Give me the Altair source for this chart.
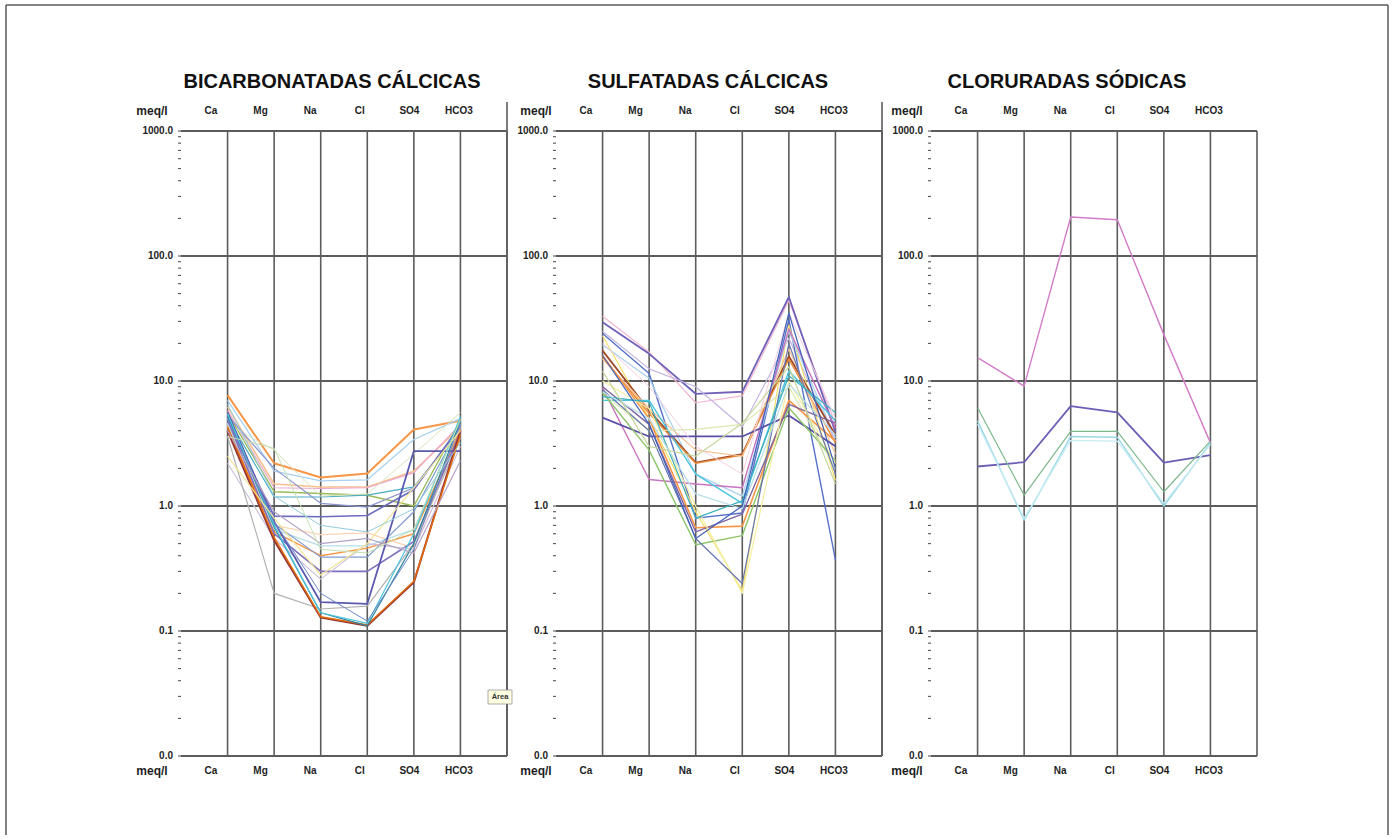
import altair as alt
import pandas as pd

IONS = ["Ca", "Mg", "Na", "Cl", "SO4", "HCO3"]
UNIT = "meq/l"
TITLES = ["BICARBONATADAS CÁLCICAS", "SULFATADAS CÁLCICAS", "CLORURADAS SÓDICAS"]
DECADES = [0.01, 0.1, 1, 10, 100, 1000]
TIP = "Área"

# ---- Panel 1: bicarbonatadas cálcicas (Ca, Mg, Na, Cl, SO4, HCO3) ----
P1_VALUES = [
    [7.7, 2.2, 1.69, 1.82, 4.1, 4.8],
    [7.0, 1.9, 1.59, 1.62, 3.4, 5.0],
    [6.2, 1.5, 1.42, 1.42, 1.9, 4.3],
    [5.8, 1.4, 1.38, 1.40, 1.85, 4.5],
    [5.5, 1.3, 1.26, 1.22, 1.0, 4.8],
    [5.1, 1.18, 1.18, 1.22, 1.42, 4.1],
    [4.5, 2.8, 1.2, 1.25, 2.6, 5.6],
    [5.3, 2.0, 1.05, 0.98, 1.4, 4.2],
    [4.8, 0.83, 0.82, 0.84, 1.35, 4.4],
    [4.4, 0.7, 0.59, 0.61, 0.46, 4.0],
    [4.6, 0.65, 0.48, 0.48, 0.65, 3.8],
    [4.2, 0.62, 0.40, 0.46, 0.6, 4.1],
    [5.0, 0.72, 0.39, 0.39, 0.9, 4.4],
    [4.9, 0.6, 0.30, 0.30, 0.52, 3.9],
    [2.2, 0.55, 0.26, 0.5, 0.45, 3.0],
    [5.6, 0.75, 0.17, 0.165, 2.75, 2.75],
    [3.6, 0.2, 0.15, 0.158, 0.5, 3.5],
    [4.0, 0.53, 0.128, 0.11, 0.245, 4.0],
    [4.3, 0.56, 0.13, 0.112, 0.25, 3.7],
    [5.3, 0.68, 0.14, 0.11, 0.5, 4.8],
    [5.5, 0.7, 0.14, 0.115, 0.6, 5.2],
    [5.0, 0.75, 0.2, 0.12, 0.45, 4.6],
    [2.5, 0.8, 0.28, 0.5, 1.4, 4.0],
    [4.0, 0.9, 0.5, 0.55, 0.42, 2.3],
    [3.6, 2.9, 0.45, 0.42, 0.65, 4.9],
    [6.5, 1.2, 0.7, 0.62, 0.95, 3.2],
]
P1_COLORS = ["#f79646", "#a9d0ee", "#fabf8f", "#eaa8cf", "#9bbb59", "#4bacc6",
             "#d7e4bd", "#8a96d0", "#6a6cc0", "#fcd5b4", "#b7dee8", "#f79646",
             "#7f9bd0", "#7f6fc0", "#ccc0da", "#5a5aae", "#b0b0b0", "#953735",
             "#e46c0a", "#31859c", "#4bc6e0", "#6b86c8", "#f2e394", "#b3a2c7",
             "#c4e0b0", "#92cddc"]
P1_WIDTHS = [2.0, 1.2, 1.6, 1.2, 1.4, 1.2, 1.0, 1.2, 1.6, 1.4, 1.4, 1.4, 1.2,
             1.6, 1.2, 1.8, 1.2, 2.0, 1.4, 1.2, 1.2, 1.0, 1.2, 1.2, 1.0, 1.0]

# ---- Panel 2: sulfatadas cálcicas ----
P2_VALUES = [
    [33, 17, 6.7, 7.6, 44, 4.5],
    [29.5, 16.5, 7.9, 8.2, 47, 3.9],
    [25, 12.5, 9.0, 4.3, 22, 3.3],
    [24, 11.5, 0.8, 0.88, 31, 0.37],
    [23, 5.0, 0.9, 0.21, 28, 1.6],
    [19.5, 10.5, 1.8, 1.2, 25, 3.5],
    [17.5, 5.8, 2.22, 2.6, 15.8, 3.7],
    [15.5, 5.5, 2.2, 2.55, 15, 3.2],
    [15, 6.0, 2.8, 2.5, 18, 2.6],
    [8.8, 1.63, 1.5, 1.4, 26, 4.2],
    [7.0, 7.0, 1.8, 1.05, 12, 4.8],
    [5.1, 3.6, 3.6, 3.6, 5.3, 3.0],
    [8.0, 4.0, 4.1, 4.5, 9, 2.0],
    [8.1, 2.8, 0.49, 0.58, 6.1, 2.3],
    [16, 5.0, 0.67, 0.69, 7.0, 3.3],
    [9, 4.5, 0.62, 0.86, 6.5, 4.6],
    [10, 6, 1.0, 0.2, 10, 2.2],
    [8.5, 4.0, 0.55, 0.24, 20, 1.8],
    [7.5, 6.8, 0.8, 1.1, 11, 5.6],
    [8.2, 5.0, 1.25, 0.95, 9.5, 3.7],
    [20, 9, 3.0, 1.8, 35, 5.0],
    [12, 3.0, 2.5, 4.6, 13, 1.5],
    [16, 4.5, 0.55, 1.0, 35, 2.0],
]
P2_COLORS = ["#f4b6d0", "#6f62b8", "#c5b5e2", "#5570c8", "#f2e06a", "#a9d0ee",
             "#9e4a2a", "#e98a3a", "#fac090", "#c874c0", "#4bc6e0", "#5a4fa8",
             "#dbe8b0", "#8cc46a", "#f79646", "#8064a2", "#f5eea0", "#6676b0",
             "#3cb0c0", "#b7dee8", "#f6cfe0", "#c4d79b", "#4060b8"]
P2_WIDTHS = [1.2, 1.8, 1.2, 1.4, 1.2, 1.2, 1.8, 1.4, 1.2, 1.4, 1.4, 1.8, 1.2,
             1.4, 1.6, 1.4, 1.2, 1.2, 1.2, 1.2, 1.0, 1.2, 1.2]

# ---- Panel 3: cloruradas sódicas ----
P3_VALUES = [
    [15.4, 9.1, 205, 195, 23.5, 3.2],
    [2.07, 2.24, 6.3, 5.6, 2.22, 2.55],
    [6.1, 1.22, 3.95, 3.95, 1.3, 3.3],
    [4.8, 0.77, 3.6, 3.55, 1.0, 3.2],
    [4.5, 0.8, 3.35, 3.3, 1.05, 3.1],
]
P3_COLORS = ["#d27cc8", "#6a5fb5", "#7cb88a", "#9ad8e6", "#c8ecf4"]
P3_WIDTHS = [1.4, 1.8, 1.2, 1.4, 1.2]

W, H = 326, 625
FONT = "Liberation Sans"
GRID = "#5c5c5c"
TXT = "#1e1e1e"

TICKS = [k * 10.0 ** e for e in range(-2, 3) for k in range(1, 10)] + [1000.0]

xS = alt.Scale(domain=[0, 7], nice=False, zero=False)
yS = alt.Scale(type="log", domain=[0.01, 1000], nice=False)


def panel(k, values, colors, widths, meq_dx, title_x, frame=False, sep=False, tip=False):
    rows = []
    for s, (vals, c, w) in enumerate(zip(values, colors, widths)):
        for i, v in enumerate(vals):
            rows.append(dict(sid=s, ion=i + 1, v=v, c=c, w=w))
    df = pd.DataFrame(rows)

    dec = pd.DataFrame({"v": DECADES, "x0": 0, "x1": 7})
    hgrid = alt.Chart(dec).mark_rule(color=GRID, strokeWidth=1.8).encode(
        y=alt.Y("v:Q", scale=yS, axis=None),
        x=alt.X("x0:Q", scale=xS, axis=None), x2="x1:Q")

    ylab = alt.Chart(dec).transform_calculate(lbl="format(datum.v, '.1f')").mark_text(
        font=FONT, fontSize=10, fontWeight="bold", color=TXT, align="right", baseline="middle"
    ).encode(y=alt.Y("v:Q", scale=yS, axis=None), x=alt.value(-8), text="lbl:N")

    ticks = alt.Chart(pd.DataFrame({"v": TICKS})).mark_rule(color="#444", strokeWidth=1).encode(
        y=alt.Y("v:Q", scale=yS, axis=None), x=alt.value(-3), x2=alt.value(0))

    vg = pd.DataFrame({"x": list(range(1, 8)), "y0": 0.01, "y1": 1000})
    vgrid = alt.Chart(vg).mark_rule(color=GRID, strokeWidth=1.6).encode(
        x=alt.X("x:Q", scale=xS, axis=None),
        y=alt.Y("y0:Q", scale=yS, axis=None), y2="y1:Q")

    lines = alt.Chart(df).mark_line(strokeJoin="round").encode(
        x=alt.X("ion:Q", scale=xS, axis=None),
        y=alt.Y("v:Q", scale=yS, axis=None),
        detail="sid:N",
        color=alt.Color("c:N", scale=None),
        strokeWidth=alt.StrokeWidth("w:Q", scale=None))

    lab = pd.DataFrame({"lab": IONS, "i": list(range(1, 7))})
    layers = [hgrid, vgrid, ticks, ylab, lines]
    for yy in (-20, 640):
        layers.append(
            alt.Chart(lab).transform_calculate(lx="0.644 + 1.065*(datum.i-1)")
            .mark_text(font=FONT, fontSize=10, fontWeight="bold", color=TXT, baseline="middle")
            .encode(x=alt.X("lx:Q", scale=xS, axis=None), y=alt.value(yy), text="lab:N"))
        layers.append(
            alt.Chart(pd.DataFrame({"t": [UNIT]}))
            .mark_text(font=FONT, fontSize=12, fontWeight="bold", color=TXT, baseline="middle")
            .encode(x=alt.value(meq_dx), y=alt.value(yy), text="t:N"))

    layers.append(
        alt.Chart(pd.DataFrame({"t": [TITLES[k]]}))
        .mark_text(font=FONT, fontSize=20, fontWeight="bold", color="#111", baseline="alphabetic")
        .encode(x=alt.value(title_x), y=alt.value(-43), text="t:N"))

    if sep:
        layers.append(alt.Chart(pd.DataFrame({"a": [0]})).mark_rule(color=GRID, strokeWidth=1.6)
                      .encode(x=alt.value(W), y=alt.value(-29), y2=alt.value(H)))
    if tip:
        tipdf = pd.DataFrame({"t": [TIP]})
        layers.append(alt.Chart(tipdf).mark_rect(fill="#ffffe1", stroke="#8a8a8a", strokeWidth=0.7)
                      .encode(x=alt.value(307), x2=alt.value(331), y=alt.value(559), y2=alt.value(573)))
        layers.append(alt.Chart(tipdf).mark_text(font=FONT, fontSize=7.5, fontWeight="bold", color="#333", baseline="middle")
                      .encode(x=alt.value(319), y=alt.value(566), text="t:N"))
    if frame:
        fr = pd.DataFrame({"a": [0]})
        fcol, fw = "#5a5a5a", 1.5
        layers.append(alt.Chart(fr).mark_rule(color=fcol, strokeWidth=fw)
                      .encode(x=alt.value(-175), x2=alt.value(1207), y=alt.value(-126)))
        layers.append(alt.Chart(fr).mark_rule(color=fcol, strokeWidth=fw)
                      .encode(x=alt.value(-175), y=alt.value(-126), y2=alt.value(704)))
        layers.append(alt.Chart(fr).mark_rule(color=fcol, strokeWidth=fw)
                      .encode(x=alt.value(1207), y=alt.value(-126), y2=alt.value(704)))

    return alt.layer(*layers).properties(width=W, height=H)


p1 = panel(0, P1_VALUES, P1_COLORS, P1_WIDTHS, -29, 151, frame=True, sep=True, tip=True)
p2 = panel(1, P2_VALUES, P2_COLORS, P2_WIDTHS, -20, 152, sep=True)
p3 = panel(2, P3_VALUES, P3_COLORS, P3_WIDTHS, -24, 136)

chart = alt.hconcat(p1, p2, p3, spacing=49, bounds="flush").properties(
    padding={"left": 5, "top": 4, "right": 2, "bottom": 2},
    background="white",
).configure_view(stroke=None)

chart.save("out.html", embed_options={"renderer": "svg", "actions": False})
